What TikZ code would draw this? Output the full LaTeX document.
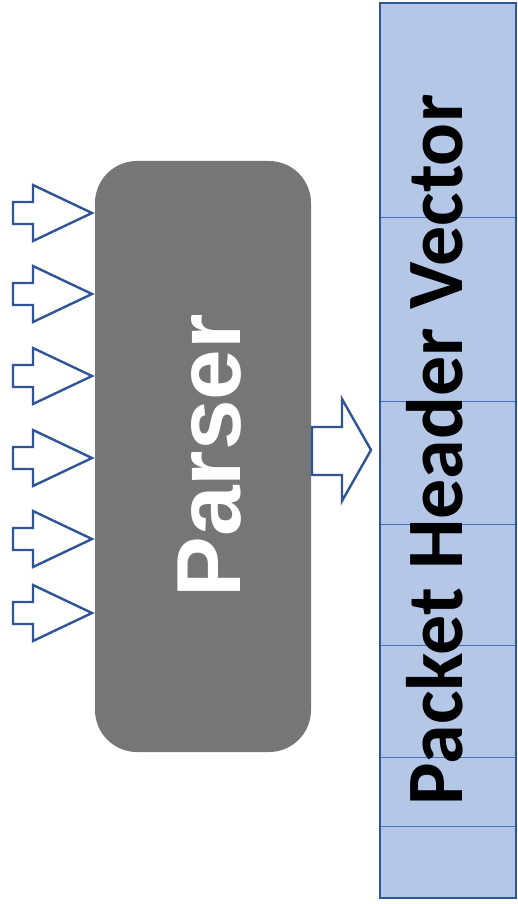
\documentclass[tikz,border=0pt]{standalone}
\usepackage{fontspec}
\setmainfont{Liberation Sans}
\newfontfamily\calfont{Carlito}
\definecolor{parsergray}{HTML}{767676}
\definecolor{phvfill}{HTML}{B4C7E7}
\definecolor{phvborder}{HTML}{2F5597}
\definecolor{phvline}{HTML}{4472C4}
\begin{document}
\begin{tikzpicture}[x=1pt,y=-1pt,
  parserbox/.style={fill=parsergray, rounded corners=42pt},
  phvbox/.style={fill=phvfill},
  slotline/.style={draw=phvline, line width=1pt},
  blockarrow/.style={draw=phvborder, fill=white, line width=2.4pt, line join=miter},
  inarrow/.pic={
    \path[blockarrow] (13,-11) -- (33,-11) -- (33,-28) -- (92,0) -- (33,28)
      -- (33,11) -- (13,11) -- cycle;
  }]
  \useasboundingbox (0,0) rectangle (518,904);

  % Parser block
  \path[parserbox] (95,161) rectangle (311,752);
  \node[rotate=90, anchor=base, text=white, inner sep=0pt,
        font=\bfseries\fontsize{91}{91}\selectfont] (parser) at (240,456) {Parser};

  % Packet header vector with its slots
  \path[phvbox] (380,3) rectangle (516,898);
  \foreach \yy/\nm in {217/s1,401/s2,524/s3,645/s4,757/s5,826/s6}{
    \coordinate (\nm l) at (379,\yy);
    \coordinate (\nm r) at (515,\yy);
    \draw[slotline] (\nm l) -- (\nm r);
  }
  \draw[phvborder, line width=2.6pt] (380,3) rectangle (516,898);
  \node[rotate=90, anchor=base, inner sep=0pt,
        font=\calfont\bfseries\fontsize{80}{80}\selectfont] (phv) at (462,450) {Packet Header Vector};

  % Incoming packet arrows
  \foreach \yy in {213,294,376,458,539,613}{
    \pic at (0,\yy) {inarrow};
  }

  % Parser output arrow into the vector
  \path[blockarrow] (312,427) -- (342,427) -- (342,399) -- (371,450) -- (342,501)
    -- (342,475) -- (312,475) -- cycle;
\end{tikzpicture}
\end{document}
